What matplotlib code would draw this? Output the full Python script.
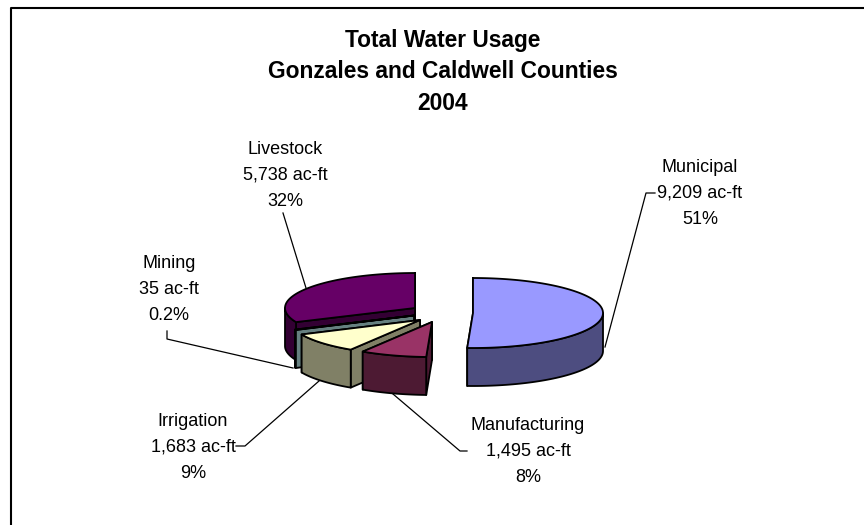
import numpy as np
import matplotlib
matplotlib.use('Agg')
import matplotlib.pyplot as plt
from matplotlib.patches import Polygon

plt.rcParams['font.family'] = ['Liberation Sans', 'DejaVu Sans']

# Water use by sector, acre-feet
sectors = ['Municipal', 'Manufacturing', 'Irrigation', 'Mining', 'Livestock']
acre_feet = [9209, 1495, 1683, 35, 5738]
amount_labels = ['9,209 ac-ft', '1,495 ac-ft', '1,683 ac-ft', '35 ac-ft', '5,738 ac-ft']
pct_labels = ['51%', '8%', '9%', '0.2%', '32%']
title_lines = ['Total Water Usage', 'Gonzales and Caldwell Counties', '2004']

top_colors = ['#9999FF', '#993366', '#FFFFCC', '#668F8F', '#660066']
side_colors = ['#4D4D80', '#4D1A33', '#808066', '#668080', '#330033']

# pixel layout of the exploded pie
centers = [(473, 313), (432, 322), (420, 320), (414, 315.5), (415, 308)]
rx, ry, depth = 130, 35, 38
draw_order = [4, 3, 2, 1, 0]

label_x = [700, 528, 193, 169, 285]
label_y = [167, 425, 421, 264, 149]
line_gap = 26

leaders = [
    [(605, 347), (646, 193), (655, 193)],
    [(393, 394), (460, 451), (467, 451)],
    [(319, 381), (245, 446), (236, 446)],
    [(293, 368), (167, 339), (167, 331)],
    [(306, 288), (283, 213)],
]

fig = plt.figure(figsize=(8.64, 5.25), dpi=100)
ax = fig.add_axes([0, 0, 1, 1])
ax.set_xlim(0, 864)
ax.set_ylim(525, 0)
ax.axis('off')

# chart border, only the top and left edges are inside the image
ax.plot([11, 11, 864], [525, 7.5, 7.5], color='black', lw=1.5, solid_capstyle='butt')


def rim(c, angle):
    return c[0] + rx * np.sin(angle), c[1] - ry * np.cos(angle)


def face(pts, color, z):
    ax.add_patch(Polygon(pts, closed=True, facecolor=color, edgecolor='black',
                         lw=1.3, joinstyle='round', zorder=z))


edges = np.cumsum([0] + acre_feet) / sum(acre_feet) * 2 * np.pi
for rank, i in enumerate(draw_order):
    c = centers[i]
    a0, a1 = edges[i], edges[i + 1]
    z = 2 + rank * 0.1

    # the two cut faces, the one facing away goes first
    p0, p1 = rim(c, a0), rim(c, a1)
    low = (c[0], c[1] + depth)
    face([c, p1, (p1[0], p1[1] + depth), low], side_colors[i], z)
    face([c, p0, (p0[0], p0[1] + depth), low], side_colors[i], z)

    # outer wall, only the front half of the circle shows
    s0, s1 = max(a0, np.pi / 2), min(a1, 1.5 * np.pi)
    if s1 > s0:
        t = np.linspace(s0, s1, 60)
        xs, ys = rim(c, t)
        wall = list(zip(xs, ys)) + list(zip(xs[::-1], ys[::-1] + depth))
        face(wall, side_colors[i], z)

    # top face
    t = np.linspace(a0, a1, 120)
    xs, ys = rim(c, t)
    face([c] + list(zip(xs, ys)), top_colors[i], z)

for pts in leaders:
    xs, ys = zip(*pts)
    ax.plot(xs, ys, color='black', lw=0.9, zorder=5)

for i, name in enumerate(sectors):
    lines = [name, amount_labels[i], pct_labels[i]]
    for j, line in enumerate(lines):
        ax.text(label_x[i], label_y[i] + j * line_gap, line, fontsize=13,
                ha='center', va='center', color='black')

for j, line in enumerate(title_lines):
    ax.text(443, 40 + j * 31.5, line, fontsize=16.4, fontweight='bold',
            ha='center', va='center', color='black')

fig.savefig('out.png', dpi=100)
